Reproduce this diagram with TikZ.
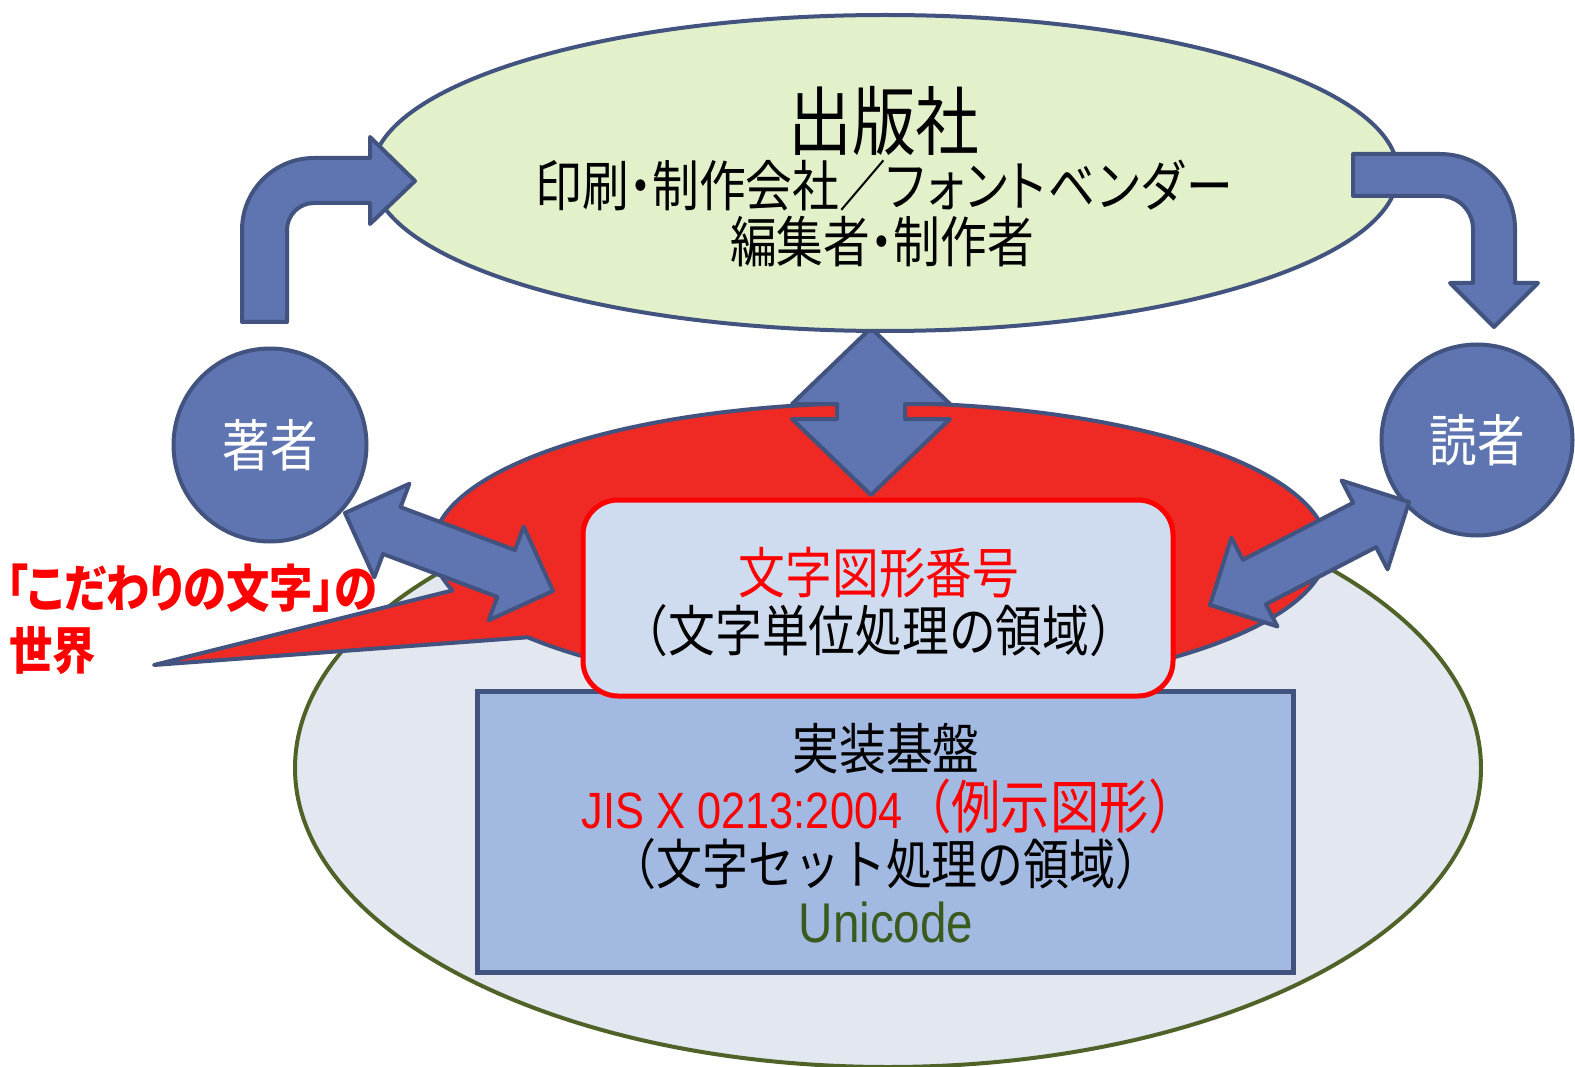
\documentclass[tikz,border=0pt]{standalone}
\usepackage{fontspec}
\usetikzlibrary{calc,shapes.geometric}
\newfontfamily\jp[FakeStretch=0.85]{Noto Sans CJK JP}
\newfontfamily\jpp[FakeStretch=0.85,RawFeature=+palt]{Noto Sans CJK JP}
\newfontfamily\jppk[FakeStretch=0.85,RawFeature=+palt,LetterSpace=4]{Noto Sans CJK JP}
\newfontfamily\lat[FakeStretch=0.85]{Liberation Sans}
\definecolor{bfill}{HTML}{5E75B1}
\definecolor{bline}{HTML}{41537E}
\definecolor{gfill}{HTML}{E3F1CA}
\definecolor{greyfill}{HTML}{E2E7F0}
\definecolor{olive}{HTML}{4F6228}
\definecolor{redfill}{HTML}{EF2A25}
\definecolor{rrfill}{HTML}{CFDCEF}
\definecolor{rectfill}{HTML}{A2BAE1}
\definecolor{unicol}{HTML}{3A5A1E}
\definecolor{pured}{HTML}{FF0000}
\tikzset{
  blockarrow/.style={fill=bfill,draw=bline,line width=4pt,line join=round},
  txt/.style={inner sep=0pt,align=center},
}
\newcommand\dblblock[3]{%
  \coordinate (#3p1) at ($(#1)!50pt!(#2)$);
  \coordinate (#3p2) at ($(#2)!50pt!(#1)$);
  \draw[blockarrow] (#1) -- ($(#3p1)!50pt!90:(#2)$) -- ($(#3p1)!25pt!90:(#2)$)
    -- ($(#3p2)!25pt!90:(#2)$) -- ($(#3p2)!50pt!90:(#2)$) -- (#2)
    -- ($(#3p2)!50pt!-90:(#2)$) -- ($(#3p2)!25pt!-90:(#2)$)
    -- ($(#3p1)!25pt!-90:(#2)$) -- ($(#3p1)!50pt!-90:(#2)$) -- cycle;
}
\begin{document}
\begin{tikzpicture}[x=1pt,y=-1pt]
\useasboundingbox (0,0) rectangle (1575,1067);
% base ellipse
\node[ellipse,fill=greyfill,draw=olive,line width=4pt,minimum width=1186,minimum height=598,inner sep=0pt] (base) at (888,768) {};
% red callout ellipse
\coordinate (cc) at (880,548);
\coordinate (tipc) at (154,665);
\coordinate (ca) at (452.5,590.4);
\path[fill=redfill,draw=bline,line width=4pt,line join=round]
  (tipc) -- (ca) arc[start angle=163,end angle=502,x radius=447,y radius=145] -- cycle;
% implementation rectangle
\node[rectangle,fill=rectfill,draw=bline,line width=5pt,minimum width=816,minimum height=281,inner sep=0pt] (impl) at (885,831.5) {};
% vertical double arrow
\coordinate (vt) at (871,328);
\coordinate (vb) at (871,495);
\draw[blockarrow] (vt) -- (950,404) -- (905,404) -- (905,419) -- (950,419) -- (vb)
  -- (792,419) -- (837,419) -- (837,404) -- (792,404) -- cycle;
% rounded rectangle
\node[rectangle,rounded corners=35pt,fill=rrfill,draw=pured,line width=5pt,minimum width=590,minimum height=196,inner sep=0pt] (glyph) at (878,598) {};
% publisher ellipse
\node[ellipse,fill=gfill,draw=bline,line width=4pt,minimum width=1026,minimum height=316,inner sep=0pt] (pub) at (885,173) {};
% bent arrows
\draw[blockarrow] (242,322) -- (242,230) arc[start angle=180,end angle=270,radius=72]
  -- (370,158) -- (370,137) -- (415,181) -- (370,224) -- (370,203) -- (314,203)
  arc[start angle=270,end angle=180,radius=27] -- (287,322) -- cycle;
\draw[blockarrow] (1353,154) -- (1440,154) arc[start angle=270,end angle=360,radius=75]
  -- (1515,283) -- (1538,283) -- (1494,327) -- (1450,283) -- (1473,283) -- (1473,229)
  arc[start angle=0,end angle=-90,radius=33] -- (1353,196) -- cycle;
% circles
\node[circle,fill=bfill,draw=bline,line width=4pt,minimum size=193,inner sep=0pt] (author) at (270,445) {};
\node[circle,fill=bfill,draw=bline,line width=4pt,minimum size=191,inner sep=0pt] (reader) at (1477,440) {};
% diagonal double arrows
\coordinate (la) at (345,513);
\coordinate (lb) at (553,591);
\dblblock{la}{lb}{l}
\coordinate (ra) at (1409,502);
\coordinate (rb) at (1210,605);
\dblblock{ra}{rb}{r}
% texts
\node[txt,font=\jp\fontsize{75}{80}\selectfont] (t1) at (884,121) {出版社};
\node[txt,font=\fontsize{55}{60}\selectfont] (t2) at (884,186) {{\jp 印刷}{\jpp ・}{\jp 制作会社／}{\jppk フォントベンダー}};
\node[txt,font=\fontsize{55}{60}\selectfont] (t3) at (882,242) {{\jp 編集者}{\jpp ・}{\jp 制作者}};
\node[txt,text=white,font=\jp\fontsize{56}{60}\selectfont] (ta) at (author) {著者};
\node[txt,text=white,font=\jp\fontsize{56}{60}\selectfont] (tr) at (reader) {読者};
\node[txt,text=pured,font=\jp\fontsize{55}{60}\selectfont] (tg1) at (879,573) {文字図形番号};
\node[txt,font=\jp\fontsize{55}{60}\selectfont] (tg2) at (879,631) {（文字単位処理の領域）};
\node[txt,font=\jp\fontsize{55}{60}\selectfont] (ti1) at (886,749) {実装基盤};
\node[txt,text=pured,font=\fontsize{58}{60}\selectfont] (ti2) at (890,806) {{\lat\fontsize{51}{60}\selectfont JIS X 0213:2004}{\jp （例示図形）}};
\node[txt,font=\jp\fontsize{54}{60}\selectfont] (ti3) at (886,864) {（文字セット処理の領域）};
\node[txt,text=unicol,font=\lat\fontsize{56}{60}\selectfont] (ti4) at (886,922) {Unicode};
\node[txt,anchor=west,text=pured,font=\jpp\bfseries\fontsize{51}{56}\selectfont] (tc1) at (6,588) {「こだわりの文字」の};
\node[txt,anchor=west,text=pured,font=\jpp\bfseries\fontsize{51}{56}\selectfont] (tc2) at (9,651) {世界};
\end{tikzpicture}
\end{document}
